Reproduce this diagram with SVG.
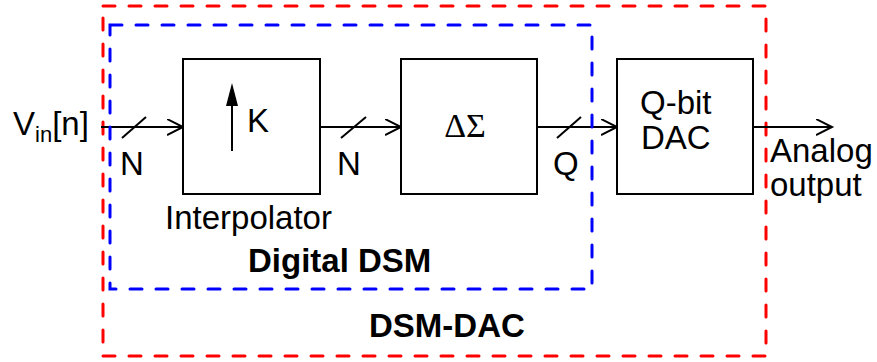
<svg xmlns="http://www.w3.org/2000/svg" width="877" height="362" viewBox="0 0 877 362">
<style>
text{font-family:"Liberation Sans",Arial,sans-serif;font-size:33px;fill:#000}
.b{font-weight:bold}
.box{fill:#fff;stroke:#000;stroke-width:2}
.w{fill:none;stroke:#000;stroke-width:2}
.red{fill:none;stroke:#f00;stroke-width:3;stroke-dasharray:12 14;stroke-linecap:round}
.blue{fill:none;stroke:#00f;stroke-width:3;stroke-dasharray:12 14;stroke-linecap:round}
</style>
<defs>
<marker id="chev" markerWidth="20" markerHeight="20" refX="16" refY="8" orient="auto" markerUnits="userSpaceOnUse">
<path d="M0,0 L16,8 L0,16" fill="none" stroke="#000" stroke-width="2"/>
</marker>
</defs>
<rect id="dsm-dac" class="red" x="103" y="6" width="663" height="350"/>
<g id="connectors">
<line class="w" x1="101" y1="127" x2="183" y2="127" marker-end="url(#chev)"/>
<line class="w" x1="122" y1="138" x2="146" y2="117"/>
<line class="w" x1="320" y1="127" x2="401" y2="127" marker-end="url(#chev)"/>
<line class="w" x1="341" y1="138" x2="366" y2="117"/>
<line class="w" x1="537" y1="127" x2="617" y2="127" marker-end="url(#chev)"/>
<line class="w" x1="557" y1="138" x2="581" y2="117"/>
<line class="w" x1="753" y1="127" x2="832" y2="127" marker-end="url(#chev)"/>
</g>
<rect id="digital-dsm" class="blue" x="110" y="25" width="482" height="264"/>
<g id="interpolator">
<rect class="box" x="183" y="59" width="137" height="135"/>
<line class="w" x1="232" y1="151" x2="232" y2="100"/>
<path d="M232,83 L238,106 L226,106 Z" fill="#000"/>
<text x="247" y="132">K</text>
<text x="165" y="229">Interpolator</text>
</g>
<g id="delta-sigma">
<rect class="box" x="401" y="59" width="136" height="135"/>
<text x="465" y="137" text-anchor="middle" style="font-family:'Liberation Serif','Times New Roman',serif;font-size:34px">ΔΣ</text>
</g>
<g id="dac">
<rect class="box" x="617" y="59" width="136" height="135"/>
<text x="640" y="114">Q-bit</text>
<text x="641" y="149">DAC</text>
</g>
<g id="labels">
<text x="13" y="135">V<tspan font-size="22" dy="7">in</tspan><tspan dy="-7">[n]</tspan></text>
<text x="120" y="175">N</text>
<text x="337" y="175">N</text>
<text x="553" y="175">Q</text>
<text x="770" y="162">Analog</text>
<text x="770" y="196">output</text>
<text class="b" x="248" y="272">Digital DSM</text>
<text class="b" x="369" y="337">DSM-DAC</text>
</g>
</svg>
